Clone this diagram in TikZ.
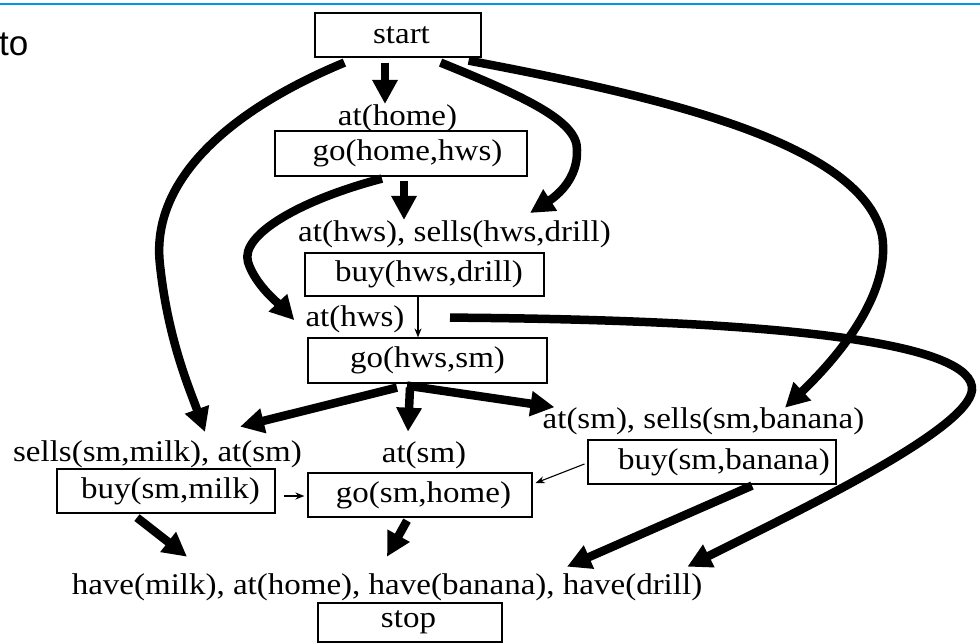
\documentclass[tikz,border=0pt]{standalone}
\usepackage{fontspec}
\setmainfont{Liberation Serif}[FakeStretch=1.1]
\newfontfamily\slidefont{Liberation Sans}
\usetikzlibrary{arrows.meta}
\definecolor{slideblue}{RGB}{0,150,235}

\begin{document}
\begin{tikzpicture}[x=1pt,y=-1pt,
  planfont/.style={font=\fontsize{30}{36}\selectfont},
  box/.style={draw, line width=1.2pt, inner sep=0pt, minimum height=44pt, planfont},
  lbl/.style={inner sep=0pt, anchor=base, planfont},
  link/.style={line width=8.5pt, -{Triangle[length=24pt,width=24pt]}},
  order/.style={line width=1.1pt, -{Stealth[length=9pt,width=7pt]}},
]
\useasboundingbox (0,0) rectangle (980,643);

% slide header rule and clipped title fragment
\draw[slideblue, line width=1.8pt] (0,4) -- (980,4);
\node[anchor=base west, inner sep=0pt, font=\slidefont\fontsize{35}{40}\selectfont] (title) at (-1,55) {to};

% steps of the plan
\node[box, minimum width=166pt] (start) at (398,35) {\hspace*{7pt}start};
\node[box, minimum width=252pt, minimum height=45pt] (gohh) at (401,153.5) {\hspace*{13pt}go(home,hws)};
\node[box, minimum width=239pt, minimum height=43pt] (buyhd) at (424.5,274.5) {\hspace*{9pt}buy(hws,drill)};
\node[box, minimum width=239pt, minimum height=45pt] (gohs) at (427.5,360.5) {go(hws,sm)};
\node[box, minimum width=218pt] (buymilk) at (166,491) {\hspace*{9pt}buy(sm,milk)};
\node[box, minimum width=224pt] (gosh) at (420,495) {\hspace*{7pt}go(sm,home)};
\node[box, minimum width=248pt] (buybanana) at (712,462) {\hspace*{24pt}buy(sm,banana)};
\node[box, minimum width=184pt, minimum height=39pt] (stop) at (410,622.5) {\hspace*{-3pt}stop};

% preconditions
\node[lbl] (athome) at (397.5,125) {at(home)};
\node[lbl] (sellsdrill) at (454.5,241) {at(hws), sells(hws,drill)};
\node[lbl] (athws) at (355,326) {at(hws)};
\node[lbl] (sellsmilk) at (157.5,461) {sells(sm,milk), at(sm)};
\node[lbl] (atsm) at (424,462) {at(sm)};
\node[lbl] (sellsbanana) at (703.5,428) {at(sm), sells(sm,banana)};
\node[lbl] (goal) at (387,594) {have(milk), at(home), have(banana), have(drill)};

% causal links
\draw[link] ([shift={(-13,5)}]start.south) -- ([shift={(-12.5,0)}]athome.north);
\draw[link] ([shift={(30,5)}]start.south west)
  .. controls (230,110) and (150,180) .. (160,265)
  .. controls (168,340) and (190,390) .. ([shift={(47.5,-8)}]sellsmilk.north);
\draw[link] ([shift={(-41,5)}]start.south east)
  .. controls (520,95) and (578,120) .. (577,150)
  .. controls (578,178) and (558,195) .. ([shift={(75.5,-7)}]sellsdrill.north);
\draw[link] ([shift={(-13,3)}]start.south east)
  .. controls (650,95) and (860,140) .. (882,235)
  .. controls (892,295) and (835,360) .. ([shift={(81.5,0.7)}]sellsbanana.north);
\draw[link] ([shift={(3,4)}]gohh.south) -- ([shift={(-50.5,0)}]sellsdrill.north);
\draw[link] ([shift={(-19,2)}]gohh.south)
  .. controls (300,200) and (240,235) .. (248,262)
  .. controls (255,285) and (280,305) .. ([shift={(-11,1.4)}]athws.west);
\coordinate (drillsrc) at ([shift={(25.5,21)}]buyhd.south);
\draw[link] (drillsrc)
  .. controls (800,320) and (975,345) .. (972,390)
  .. controls (968,430) and (800,510) .. ([shift={(-15,-6.3)}]goal.north east);
\draw[link] ([shift={(-30.5,4)}]gohs.south) -- ([shift={(-62,-13.3)}]sellsmilk.north east);
\draw[link] ([shift={(-17.5,4)}]gohs.south) -- ([shift={(-16,-9.3)}]atsm.north);
\draw[link] ([shift={(-20.5,2)}]gohs.south) -- ([shift={(12,-13.6)}]sellsbanana.west);
\draw[link] ([shift={(-29,4)}]buymilk.south) -- ([shift={(-200,-16.3)}]goal.north);
\draw[link] ([shift={(-13,3)}]gosh.south) -- ([shift={(0,-16.3)}]goal.north);
\draw[link] ([shift={(40,1)}]buybanana.south) -- ([shift={(180,-6.3)}]goal.north);

% ordering constraints
\draw[order] ([shift={(-6.5,0)}]buyhd.south) -- ([shift={(-9.5,0)}]gohs.north);
\draw[order, line width=1.8pt] ([shift={(8,5)}]buymilk.east) -- ([shift={(-3,1)}]gosh.west);
\draw[order] ([shift={(-3,2)}]buybanana.west) -- ([shift={(3,-12)}]gosh.east);
\end{tikzpicture}
\end{document}
